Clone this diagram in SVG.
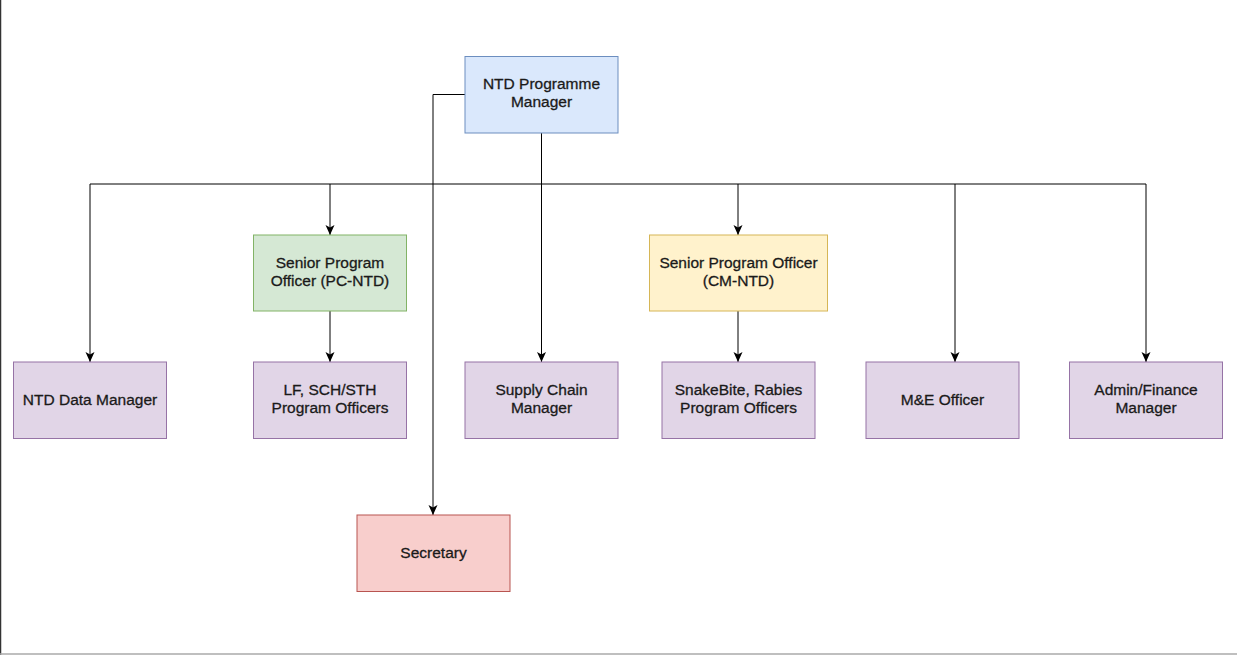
<svg xmlns="http://www.w3.org/2000/svg" width="1237" height="655" viewBox="0 0 1237 655">
  <style>
    .box { stroke-width: 1; }
    .blue { fill: #dae8fc; stroke: #6c8ebf; }
    .green { fill: #d5e8d4; stroke: #82b366; }
    .yellow { fill: #fff2cc; stroke: #d6b656; }
    .purple { fill: #e1d5e7; stroke: #9673a6; }
    .red { fill: #f8cecc; stroke: #b85450; }
    text { font-family: "Liberation Sans", Arial, Helvetica, sans-serif; font-size: 15.5px; fill: #1a1a1a; stroke: #1a1a1a; stroke-width: 0.3; text-anchor: middle; }
    .wire { fill: none; stroke: #000; stroke-width: 1; }
    .arrow { fill: none; stroke: #000; stroke-width: 1; marker-end: url(#head); }
  </style>
  <defs>
    <marker id="head" viewBox="0 0 10 10" refX="10" refY="5" markerWidth="10" markerHeight="10" markerUnits="userSpaceOnUse" orient="auto">
      <path d="M0,0.5 L10,5 L0,9.5 L2.5,5 Z" fill="#000"/>
    </marker>
  </defs>

  <rect x="0" y="0" width="1237" height="655" fill="#fff"/>
  <!-- frame edges -->
  <line x1="0.5" y1="0" x2="0.5" y2="655" stroke="#333" stroke-width="1.5"/>
  <line x1="0" y1="654" x2="1237" y2="654" stroke="#aaa" stroke-width="1.5"/>

  <!-- connectors -->
  <g id="connectors">
    <path class="wire" d="M90,184 H1146"/>
    <path class="arrow" d="M541.5,133 V362"/>
    <path class="arrow" d="M465,94.5 H433 V515"/>
    <path class="arrow" d="M90,184 V362"/>
    <path class="arrow" d="M330,184 V235"/>
    <path class="arrow" d="M738,184 V235"/>
    <path class="arrow" d="M955,184 V362"/>
    <path class="arrow" d="M1146,184 V362"/>
    <path class="arrow" d="M330,311 V362"/>
    <path class="arrow" d="M738,311 V362"/>
  </g>

  <g id="programme-manager">
    <rect class="box blue" x="465" y="56.5" width="153" height="76.5"/>
    <text x="541.5" y="89">NTD Programme</text>
    <text x="541.5" y="107">Manager</text>
  </g>

  <g id="senior-pc-ntd">
    <rect class="box green" x="253.5" y="235" width="153" height="76"/>
    <text x="330" y="268">Senior Program</text>
    <text x="330" y="286">Officer (PC-NTD)</text>
  </g>

  <g id="senior-cm-ntd">
    <rect class="box yellow" x="649.5" y="235" width="178" height="76"/>
    <text x="738.5" y="268">Senior Program Officer</text>
    <text x="738.5" y="286">(CM-NTD)</text>
  </g>

  <g id="data-manager">
    <rect class="box purple" x="13.5" y="362" width="153" height="76.5"/>
    <text x="90" y="405">NTD Data Manager</text>
  </g>

  <g id="lf-sch-sth">
    <rect class="box purple" x="253.5" y="362" width="153" height="76.5"/>
    <text x="330" y="395">LF, SCH/STH</text>
    <text x="330" y="413">Program Officers</text>
  </g>

  <g id="supply-chain">
    <rect class="box purple" x="465" y="362" width="153" height="76.5"/>
    <text x="541.5" y="395">Supply Chain</text>
    <text x="541.5" y="413">Manager</text>
  </g>

  <g id="snakebite-rabies">
    <rect class="box purple" x="662" y="362" width="153" height="76.5"/>
    <text x="738.5" y="395">SnakeBite, Rabies</text>
    <text x="738.5" y="413">Program Officers</text>
  </g>

  <g id="me-officer">
    <rect class="box purple" x="866" y="362" width="153" height="76.5"/>
    <text x="942.5" y="405">M&amp;E Officer</text>
  </g>

  <g id="admin-finance">
    <rect class="box purple" x="1069.5" y="362" width="153" height="76.5"/>
    <text x="1146" y="395">Admin/Finance</text>
    <text x="1146" y="413">Manager</text>
  </g>

  <g id="secretary">
    <rect class="box red" x="357" y="515" width="153" height="76.5"/>
    <text x="433.5" y="558">Secretary</text>
  </g>
</svg>
